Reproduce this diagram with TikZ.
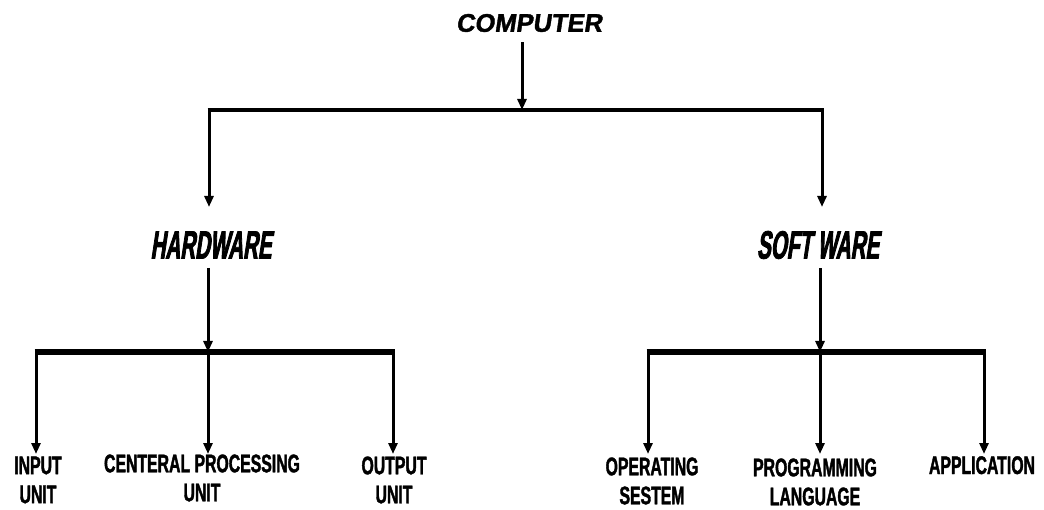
\documentclass[tikz,border=0pt]{standalone}
\usepackage{fontspec}
\setmainfont{Liberation Sans}
\newfontfamily\topfont[FakeSlant=0.15,FakeBold=1.5]{Liberation Sans}
\newfontfamily\midfont[FakeSlant=0.15,FakeStretch=0.52,FakeBold=2]{Liberation Sans}
\newfontfamily\leaffont[FakeStretch=0.62,FakeBold=1.5]{Liberation Sans}
\usetikzlibrary{arrows.meta}
\begin{document}
\begin{tikzpicture}[x=1pt,y=-1pt,
  arr/.style={line width=3pt,-{Triangle[length=11pt,width=9pt]}},
  bar/.style={line width=3.6pt},
  thickbar/.style={line width=6pt},
  toplabel/.style={font=\topfont\bfseries\fontsize{25.5}{28}\selectfont,inner sep=0pt},
  midlabel/.style={font=\midfont\bfseries\fontsize{39.5}{42}\selectfont,inner sep=0pt},
  leaf/.style={font=\leaffont\bfseries\fontsize{25.5}{29}\selectfont,inner sep=0pt,align=center}]
\useasboundingbox (0,0) rectangle (1044,510);
% top
\node[toplabel] (comp) at (529,23) {COMPUTER};
\coordinate (j0) at (522,110);
\coordinate (tl) at (209,110);
\coordinate (tr) at (822,110);
\draw[arr] (comp.south -| j0) ++(0,10) -- (j0);
\draw[bar] ([xshift=-1.5pt]tl) -- ([xshift=1.5pt]tr);
% second level
\node[midlabel] (hw) at (211,245) {HARDWARE};
\node[midlabel] (sw) at (818,245) {SOFT WARE};
\draw[arr] (tl) -- (tl |- 0,207) coordinate (hwin);
\draw[arr] (tr) -- (tr |- 0,207) coordinate (swin);
% hardware branch
\coordinate (hj) at (208,352);
\coordinate (hl) at (36,352);
\coordinate (hr) at (393,352);
\draw[arr] (hw.south -| hj) ++(0,9) -- (hj);
\draw[thickbar] ([xshift=-1.5pt]hl) -- ([xshift=1.5pt]hr);
\node[leaf] (inp) at (38,480) {INPUT\\UNIT};
\node[leaf] (cpu) at (202,478) {CENTERAL PROCESSING\\UNIT};
\node[leaf] (out) at (394,480) {OUTPUT\\UNIT};
\draw[arr] (hl) -- (hl |- 0,454);
\draw[arr] (hj) -- (hj |- 0,454);
\draw[arr] (hr) -- (hr |- 0,454);
% software branch
\coordinate (sj) at (820,352);
\coordinate (sl) at (648,352);
\coordinate (sr) at (984,352);
\draw[arr] (sw.south -| sj) ++(0,9) -- (sj);
\draw[thickbar] ([xshift=-1.5pt]sl) -- ([xshift=1.5pt]sr);
\node[leaf] (os) at (652,481) {OPERATING\\SESTEM};
\node[leaf] (pl) at (815,482) {PROGRAMMING\\LANGUAGE};
\node[leaf,anchor=north] (app) at (982,456) {APPLICATION};
\draw[arr] (sl) -- (sl |- 0,454);
\draw[arr] (sj) -- (sj |- 0,454);
\draw[arr] (sr) -- (sr |- 0,454);
\end{tikzpicture}
\end{document}
